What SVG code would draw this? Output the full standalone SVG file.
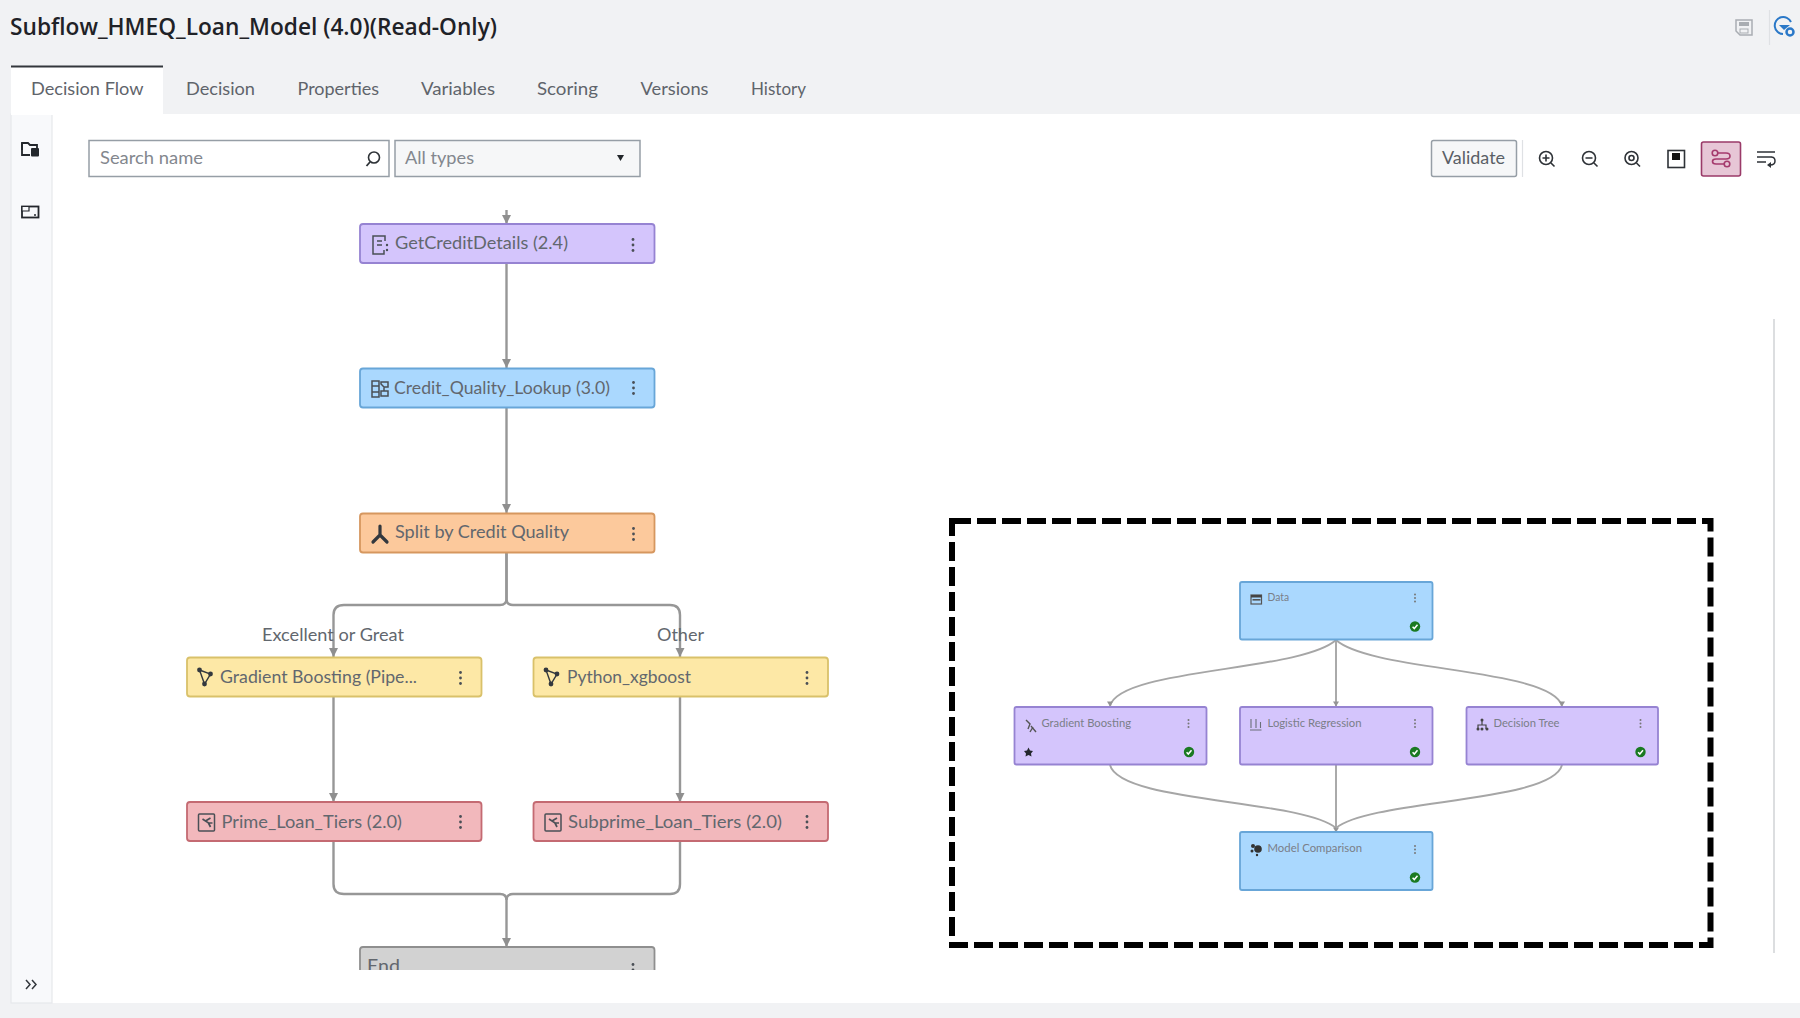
<svg xmlns="http://www.w3.org/2000/svg" width="1800" height="1018" viewBox="0 0 1800 1018">
<style>
text{font-family:"Lato","Open Sans","Liberation Sans",sans-serif;fill:#62676e;font-size:18px}
.title{font-family:"Open Sans","Liberation Sans",sans-serif;font-size:23px;font-weight:600;fill:#1f2227}
.tab{fill:#5f646b;font-size:18px}
.sub{font-size:11px;fill:#7a7e88}
.n{stroke-width:1.800}
.pur{fill:#d4c5fc;stroke:#9683d2}
.blu{fill:#aad8fe;stroke:#68a6d8}
.org{fill:#fcc99c;stroke:#d6975f}
.yel{fill:#fde8a6;stroke:#d9c16a}
.red{fill:#f2b8bc;stroke:#c46a72}
.gry{fill:#d2d2d2;stroke:#8f8f8f}
.c{fill:none;stroke:#979797;stroke-width:2.400}
.sc{fill:none;stroke:#a6a6a6;stroke-width:1.900}
.ic{fill:none;stroke:#4a4f56;stroke-width:1.500}
.box{fill:#fff;stroke:#969ea6;stroke-width:1.500}
</style>
<defs>
<marker id="a" markerUnits="userSpaceOnUse" markerWidth="10" markerHeight="10" refX="9.500" refY="5" orient="auto" viewBox="0 0 10 10"><path d="M0.500 0.500L9.500 5L0.500 9.500z" fill="#8f8f8f"/></marker>
<marker id="as" markerUnits="userSpaceOnUse" markerWidth="6" markerHeight="6" refX="3" refY="5.500" viewBox="0 0 6 6"><path d="M0 1L6 1L3 6z" fill="#949494"/></marker>
<g id="kb"><circle cx="0" cy="-5.500" r="1.400"/><circle cx="0" cy="0" r="1.400"/><circle cx="0" cy="5.500" r="1.400"/></g>
<g id="skb"><circle cx="0" cy="-3.600" r="1" fill="#777"/><circle cx="0" cy="0" r="1" fill="#777"/><circle cx="0" cy="3.600" r="1" fill="#777"/></g>
<g id="ok"><circle r="5.200" fill="#1a7a22"/><path d="M-2.400 0.200L-0.700 2L2.500 -1.800" fill="none" stroke="#fff" stroke-width="1.500"/></g>
<g id="modelic"><path d="M-6 -7L5 -3L-1 7z" fill="none" stroke="#33383e" stroke-width="1.400"/><circle cx="-6" cy="-7" r="2.400" fill="#33383e"/><circle cx="5" cy="-3" r="2.400" fill="#33383e"/><circle cx="-1" cy="7" r="2.400" fill="#33383e"/></g>
<g id="ruleic" class="ic"><rect x="-8" y="-8" width="16" height="17" rx="1"/><path d="M-4 -3L2 1L6 1M-1 -1L4 -4M2 1L4 5" stroke-width="1.700"/></g>
<clipPath id="cv"><rect x="0" y="114" width="1800" height="856"/></clipPath>
</defs>
<rect width="1800" height="1018" fill="#f1f2f4"/>
<rect x="52" y="114" width="1748" height="889" fill="#fff"/>
<rect x="11" y="114" width="41" height="889" fill="#f8f9fb" stroke="#e6e8eb" stroke-width="1.200"/>
<rect x="11" y="67" width="152" height="48" fill="#fff"/>
<line x1="11" y1="66.500" x2="163" y2="66.500" stroke="#33373c" stroke-width="2"/>

<text class="title" x="10" y="35" textLength="487" lengthAdjust="spacingAndGlyphs">Subflow_HMEQ_Loan_Model (4.0)(Read-Only)</text>
<g id="tabs">
<text class="tab" x="31" y="95" textLength="112.500" lengthAdjust="spacingAndGlyphs">Decision Flow</text>
<text class="tab" x="186" y="95" textLength="69" lengthAdjust="spacingAndGlyphs">Decision</text>
<text class="tab" x="297.500" y="95" textLength="81.500" lengthAdjust="spacingAndGlyphs">Properties</text>
<text class="tab" x="421" y="95" textLength="74" lengthAdjust="spacingAndGlyphs">Variables</text>
<text class="tab" x="537" y="95" textLength="61" lengthAdjust="spacingAndGlyphs">Scoring</text>
<text class="tab" x="640.500" y="95" textLength="68" lengthAdjust="spacingAndGlyphs">Versions</text>
<text class="tab" x="751" y="95" textLength="55" lengthAdjust="spacingAndGlyphs">History</text>
</g>

<g id="top-icons">
<path d="M1736 20H1752V35H1740L1736 31z" fill="#f1f2f4" stroke="#a9adb2" stroke-width="1.500"/>
<rect x="1739" y="22" width="10" height="4" fill="#a9adb2"/><rect x="1740" y="29" width="8" height="4" fill="none" stroke="#a9adb2"/>
<line x1="1769.500" y1="10" x2="1769.500" y2="45" stroke="#dfe1e4" stroke-width="1.200"/>
<path d="M1791 22A8.500 8.500 0 1 0 1783 34" fill="none" stroke="#2a78c8" stroke-width="2"/>
<path d="M1779 25H1790L1784 30z" fill="#2a78c8"/>
<circle cx="1790" cy="32" r="3.500" fill="none" stroke="#2a78c8" stroke-width="2.500"/>
</g>

<g id="left-rail">
<path d="M22 150V143H28L30 145H37V148" fill="none" stroke="#23272c" stroke-width="1.800"/>
<path d="M22 143V155H30" fill="none" stroke="#23272c" stroke-width="1.800"/>
<rect x="31" y="148" width="8" height="8.500" rx="1" fill="#23272c"/>
<rect x="22" y="206.500" width="16.500" height="11" fill="none" stroke="#23272c" stroke-width="1.800"/>
<path d="M22 206.500H29V211H22z" fill="#f8f9fb" stroke="#23272c" stroke-width="1.200"/><circle cx="35" cy="215" r="1" fill="#23272c"/>
<path d="M26 980L30 984.500L26 989M32 980L36 984.500L32 989" fill="none" stroke="#33373c" stroke-width="1.500"/>
</g>

<g id="search">
<rect class="box" x="89" y="140.500" width="300" height="36"/>
<text x="100" y="164" textLength="103" lengthAdjust="spacingAndGlyphs" style="fill:#83878e">Search name</text>
<circle cx="374" cy="157.500" r="5.500" fill="none" stroke="#2e3237" stroke-width="1.600"/><line x1="370" y1="162" x2="366.500" y2="166" stroke="#2e3237" stroke-width="1.800"/>
</g>
<g id="type-filter">
<rect x="395" y="140.500" width="245" height="36" fill="#f6f7f8" stroke="#969ea6" stroke-width="1.500"/>
<text x="405" y="164" textLength="69" lengthAdjust="spacingAndGlyphs" style="fill:#83878e">All types</text>
<path d="M617 155H624L620.500 161z" fill="#22262a"/>
</g>
<g id="toolbar">
<rect x="1431.500" y="140.500" width="85" height="36" rx="2" fill="#f6f7f8" stroke="#969ea6" stroke-width="1.500"/>
<text x="1442" y="164" textLength="63" lengthAdjust="spacingAndGlyphs" style="fill:#5a5f66">Validate</text>
<line x1="1522.500" y1="140" x2="1522.500" y2="177" stroke="#dfe1e4" stroke-width="1.200"/>
<g fill="none" stroke="#2e3237" stroke-width="1.600">
<circle cx="1546" cy="158" r="6.500"/><path d="M1551 163L1554.500 166.500M1542.500 158H1549.500M1546 154.500V161.500"/>
<circle cx="1589" cy="158" r="6.500"/><path d="M1594 163L1597.500 166.500M1585.500 158H1592.500"/>
<circle cx="1631.500" cy="158" r="6.500"/><circle cx="1631.500" cy="158" r="2.500"/><path d="M1636.500 163L1640 166.500"/>
<rect x="1668" y="150.500" width="16.500" height="17"/>
</g>
<rect x="1672" y="153" width="8" height="7" fill="#111"/>
<rect x="1701.500" y="142" width="39" height="34" rx="2" fill="#e7c6d6" stroke="#9a3a68" stroke-width="1.600"/>
<g fill="none" stroke="#a53a6d" stroke-width="1.600"><circle cx="1715" cy="153" r="2.800"/><circle cx="1727" cy="164" r="2.800"/><path d="M1718 153H1726Q1730 153 1730 156Q1730 159 1726 159H1716Q1712.500 159 1712.500 161.500Q1712.500 164 1716 164H1724"/></g>
<g fill="none" stroke="#2e3237" stroke-width="1.500"><path d="M1757 152H1775M1757 157H1772M1757 162H1766M1771 157Q1775 157 1775 161Q1775 165 1770 165"/></g><path d="M1771 162V168L1767 165z" fill="#2e3237"/>
</g>

<g id="connectors" clip-path="url(#cv)">
<path class="c" marker-end="url(#a)" d="M506.500 210V224"/>
<path class="c" marker-end="url(#a)" d="M506.500 263V368"/>
<path class="c" marker-end="url(#a)" d="M506.500 408V513"/>
<path class="c" marker-end="url(#a)" d="M506.500 552V599Q506.500 605 500 605H344Q333.500 605 333.500 615V657"/>
<path class="c" marker-end="url(#a)" d="M506.500 552V599Q506.500 605 513 605H670Q680 605 680 615V657"/>
<path class="c" marker-end="url(#a)" d="M333.500 697V802"/>
<path class="c" marker-end="url(#a)" d="M680 697V802"/>
<path class="c" d="M333.500 841V884Q333.500 894 344 894H500Q506.500 894 506.500 900"/>
<path class="c" marker-end="url(#a)" d="M680 841V884Q680 894 670 894H513Q506.500 894 506.500 900V947"/>
<path class="sc" marker-end="url(#as)" d="M1336 640C1300 672 1120 668 1110 706"/>
<path class="sc" marker-end="url(#as)" d="M1336 640V706"/>
<path class="sc" marker-end="url(#as)" d="M1336 640C1372 672 1552 668 1562 706"/>
<path class="sc" d="M1110 765C1120 803 1300 799 1336 828"/>
<path class="sc" marker-end="url(#as)" d="M1336 765V832"/>
<path class="sc" d="M1562 765C1552 803 1372 799 1336 828"/>
</g>

<g id="node-getcreditdetails">
<rect class="n pur" x="360" y="224" width="294.500" height="39" rx="3"/>
<path class="ic" d="M385 241V236H373V254H384V250M377 241H382M377 245H382"/>
<circle cx="387" cy="245" r="1.200" fill="#4a4f56"/><circle cx="387" cy="250" r="1.200" fill="#4a4f56"/>
<text x="395" y="249" textLength="173" lengthAdjust="spacingAndGlyphs">GetCreditDetails (2.4)</text>
<use href="#kb" x="633" y="245" fill="#4a4f56"/>
</g>
<g id="node-credit-quality-lookup">
<rect class="n blu" x="360" y="368.500" width="294.500" height="39" rx="3"/>
<path class="ic" d="M372 381H379V397H372zM372 386H379M372 392H379M381 382L388 382V387H384L381 384zM381 396V391H388V396zM384 387V391"/>
<text x="394" y="394" textLength="216" lengthAdjust="spacingAndGlyphs">Credit_Quality_Lookup (3.0)</text>
<use href="#kb" x="633.500" y="388" fill="#4a4f56"/>
</g>
<g id="node-split">
<rect class="n org" x="360" y="513.500" width="294.500" height="39" rx="3"/>
<path d="M380 526V535L373 542M380 535L387 542" fill="none" stroke="#33383e" stroke-width="3.200" stroke-linecap="round"/>
<text x="395" y="538" textLength="174" lengthAdjust="spacingAndGlyphs">Split by Credit Quality</text>
<use href="#kb" x="633.500" y="534" fill="#4a4f56"/>
</g>
<g id="label-excellent"><text x="262" y="641" textLength="142" lengthAdjust="spacingAndGlyphs">Excellent or Great</text></g>
<g id="label-other"><text x="657" y="641" textLength="47" lengthAdjust="spacingAndGlyphs">Other</text></g>
<g id="node-gradient-boosting-pipe">
<rect class="n yel" x="187" y="657.500" width="294.500" height="39" rx="3"/>
<use href="#modelic" x="205.500" y="677"/>
<text x="220" y="683" textLength="197" lengthAdjust="spacingAndGlyphs">Gradient Boosting (Pipe...</text>
<use href="#kb" x="460.500" y="678" fill="#4a4f56"/>
</g>
<g id="node-python-xgboost">
<rect class="n yel" x="533.500" y="657.500" width="294.500" height="39" rx="3"/>
<use href="#modelic" x="552" y="677"/>
<text x="567" y="683" textLength="124" lengthAdjust="spacingAndGlyphs">Python_xgboost</text>
<use href="#kb" x="807" y="678" fill="#4a4f56"/>
</g>
<g id="node-prime-loan-tiers">
<rect class="n red" x="187" y="802" width="294.500" height="39" rx="3"/>
<use href="#ruleic" x="206.500" y="822"/>
<text x="221.500" y="828" textLength="180.500" lengthAdjust="spacingAndGlyphs">Prime_Loan_Tiers (2.0)</text>
<use href="#kb" x="460.500" y="822" fill="#4a4f56"/>
</g>
<g id="node-subprime-loan-tiers">
<rect class="n red" x="533.500" y="802" width="294.500" height="39" rx="3"/>
<use href="#ruleic" x="553" y="822"/>
<text x="568" y="828" textLength="214" lengthAdjust="spacingAndGlyphs">Subprime_Loan_Tiers (2.0)</text>
<use href="#kb" x="807" y="822" fill="#4a4f56"/>
</g>
<g id="node-end" clip-path="url(#cv)">
<rect class="n gry" x="360" y="947" width="294.500" height="39" rx="3"/>
<text x="367" y="972" textLength="33" lengthAdjust="spacingAndGlyphs">End</text>
<use href="#kb" x="633" y="970" fill="#4a4f56"/>
</g>

<rect id="focus-box" x="952" y="521" width="758.500" height="424" fill="none" stroke="#000" stroke-width="6" stroke-dasharray="19 6"/>

<g id="sub-data">
<rect class="n blu" x="1240" y="582" width="192.500" height="57.500" rx="2"/>
<rect x="1251" y="595" width="10.500" height="9" fill="none" stroke="#555" stroke-width="1.200"/><rect x="1251" y="595" width="10.500" height="2.500" fill="#444"/><rect x="1252.500" y="599" width="8" height="1.600" fill="#555"/>
<text class="sub" x="1267.500" y="601" textLength="21.500" lengthAdjust="spacingAndGlyphs">Data</text>
<use href="#skb" x="1415" y="598"/><use href="#ok" x="1415" y="626.500"/>
</g>
<g id="sub-gradient-boosting">
<rect class="n pur" x="1014.500" y="707" width="192" height="57.500" rx="2"/>
<path d="M1026 720L1030 724L1028 729M1031 726L1036 732M1033 727L1030 732" fill="none" stroke="#555" stroke-width="1.400"/>
<text class="sub" x="1041.500" y="727" textLength="89.500" lengthAdjust="spacingAndGlyphs">Gradient Boosting</text>
<use href="#skb" x="1188.500" y="723.500"/><use href="#ok" x="1189" y="752"/>
<path d="M1028.500 747.500L1030 750.500L1033 751L1031 753.500L1031.500 756.500L1028.500 755L1025.500 756.500L1026 753.500L1024 751L1027 750.500z" fill="#23272c"/>
</g>
<g id="sub-logistic-regression">
<rect class="n pur" x="1240" y="707" width="192.500" height="57.500" rx="2"/>
<path d="M1251 719V728M1256 719V728M1260.500 722V728M1250 730H1261.500" fill="none" stroke="#6a6f78" stroke-width="1.100"/>
<text class="sub" x="1267.500" y="727" textLength="94" lengthAdjust="spacingAndGlyphs">Logistic Regression</text>
<use href="#skb" x="1415" y="723.500"/><use href="#ok" x="1415" y="752"/>
</g>
<g id="sub-decision-tree">
<rect class="n pur" x="1466.500" y="707" width="191.500" height="57.500" rx="2"/>
<path d="M1482 720V725M1478 729V725H1486V729" fill="none" stroke="#444" stroke-width="1.200"/><circle cx="1482" cy="720" r="1.500" fill="#444"/><circle cx="1478" cy="729" r="1.500" fill="#444"/><circle cx="1482" cy="729" r="1.500" fill="#444"/><circle cx="1487" cy="729" r="1.500" fill="#444"/>
<text class="sub" x="1493.500" y="727" textLength="66" lengthAdjust="spacingAndGlyphs">Decision Tree</text>
<use href="#skb" x="1640.500" y="723.500"/><use href="#ok" x="1640.500" y="752"/>
</g>
<g id="sub-model-comparison">
<rect class="n blu" x="1240" y="832" width="192.500" height="58" rx="2"/>
<circle cx="1253" cy="846" r="2" fill="#333"/><circle cx="1258" cy="849" r="3.800" fill="#333"/><circle cx="1252" cy="851" r="1.500" fill="#333"/><circle cx="1257" cy="855" r="1.200" fill="#333"/>
<text class="sub" x="1267.500" y="852" textLength="94.500" lengthAdjust="spacingAndGlyphs">Model Comparison</text>
<use href="#skb" x="1415" y="849.500"/><use href="#ok" x="1415" y="877.500"/>
</g>
<line id="scrollbar" x1="1774" y1="319" x2="1774" y2="953" stroke="#d4d6d9" stroke-width="1.600"/>
</svg>
